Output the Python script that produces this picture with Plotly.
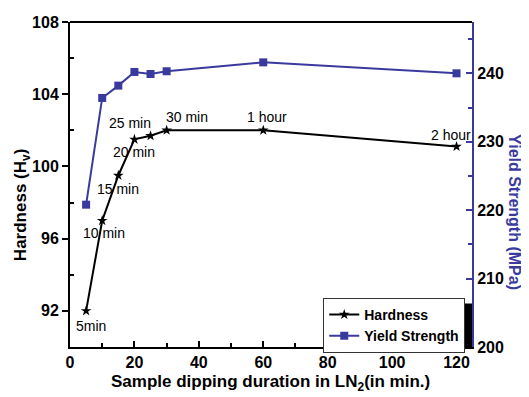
import plotly.graph_objects as go

duration = [5, 10, 15, 20, 25, 30, 60, 120]
hardness = [92.0, 97.0, 99.5, 101.5, 101.7, 102.0, 102.0, 101.1]
yield_strength = [220.8, 236.4, 238.2, 240.2, 239.9, 240.3, 241.6, 240.0]
point_labels = ["5min", "10 min", "15 min", "20 min", "25 min", "30 min", "1 hour", "2 hour"]
label_shift = [(5, -15), (2, -12), (0, -14), (0, -13), (-21, 13), (20, 13), (4, 13), (-6, 12)]

BLUE = "#3a3a9e"
FONT = "Liberation Sans, Arial, sans-serif"

fig = go.Figure()
fig.add_trace(go.Scatter(
    x=duration, y=hardness, name="Hardness", mode="lines+markers",
    line=dict(color="black", width=2),
    marker=dict(symbol="star", size=8, color="black"),
))
fig.add_trace(go.Scatter(
    x=duration, y=yield_strength, name="Yield Strength", mode="lines+markers",
    line=dict(color=BLUE, width=2),
    marker=dict(symbol="square", size=8, color=BLUE),
    yaxis="y2",
))

for xv, yv, t, (dx, dy) in zip(duration, hardness, point_labels, label_shift):
    fig.add_annotation(x=xv, y=yv, text=t, showarrow=False, xshift=dx, yshift=dy,
                       font=dict(size=14, color="black", family=FONT))

# axis titles
fig.add_annotation(xref="paper", yref="paper", x=-0.119, y=0.437, text="Hardness (H<sub>v</sub>)",
                   textangle=-90, showarrow=False, xanchor="center", yanchor="middle",
                   font=dict(size=17, family=FONT, weight="bold", color="black"))
fig.add_annotation(xref="paper", yref="paper", x=1.107, y=0.415, text="Yield Strength (MPa)",
                   textangle=90, showarrow=False, xanchor="center", yanchor="middle",
                   font=dict(size=16, family=FONT, weight="bold", color=BLUE))
fig.add_annotation(xref="paper", yref="paper", x=0.498, y=-0.111,
                   text="Sample dipping duration in LN<sub>2</sub>(in min.)",
                   showarrow=False, xanchor="center", yanchor="middle",
                   font=dict(size=17, family=FONT, weight="bold", color="black"))

# legend shadow
fig.add_shape(type="rect", xref="paper", yref="paper", x0=0.655, x1=1.0, y0=0.0, y1=0.134,
              fillcolor="black", line=dict(width=0), layer="above")

fig.update_layout(
    width=521, height=389,
    margin=dict(l=62, r=57, t=14, b=50),
    paper_bgcolor="white", plot_bgcolor="white",
    font=dict(family=FONT, color="black"),
    showlegend=True,
    legend=dict(x=0.630, y=0.151, xanchor="left", yanchor="top",
                bgcolor="white", bordercolor="#333333", borderwidth=1,
                font=dict(size=14, family=FONT, color="black", weight="bold"),
                tracegroupgap=0, itemwidth=30),
    xaxis=dict(
        range=[0, 124.8], tickvals=[0, 20, 40, 60, 80, 100, 120],
        ticks="inside", ticklen=6, tickwidth=1.5, tickcolor="black",
        minor=dict(tickvals=[10, 30, 50, 70, 90, 110], ticks="inside", ticklen=4, tickcolor="black"),
        showline=True, linecolor="black", linewidth=2, mirror=False,
        showgrid=False, zeroline=False, automargin=False,
        tickfont=dict(size=16, family=FONT, weight="bold"),
    ),
    yaxis=dict(
        range=[90, 108], tickvals=[92, 96, 100, 104, 108],
        ticks="outside", ticklen=6, tickwidth=1.5, tickcolor="black",
        minor=dict(tickvals=[94, 98, 102, 106], ticks="inside", ticklen=4, tickcolor="black"),
        showline=True, linecolor="black", linewidth=2,
        showgrid=False, zeroline=False, automargin=False,
        tickfont=dict(size=16, family=FONT, weight="bold"),
    ),
    yaxis2=dict(
        overlaying="y", side="right", range=[200, 247.5],
        tickvals=[200, 210, 220, 230, 240],
        ticks="inside", ticklen=6, tickwidth=1.5, tickcolor=BLUE,
        minor=dict(tickvals=[205, 215, 225, 235, 245], ticks="inside", ticklen=4, tickcolor=BLUE),
        showline=True, linecolor=BLUE, linewidth=2,
        showgrid=False, zeroline=False, automargin=False,
        tickfont=dict(size=16, family=FONT, weight="bold", color="black"),
    ),
)
# top border line
fig.add_shape(type="line", xref="paper", yref="paper", x0=0, x1=1, y0=1, y1=1,
              line=dict(color="black", width=2))

fig.write_html("out.html")
